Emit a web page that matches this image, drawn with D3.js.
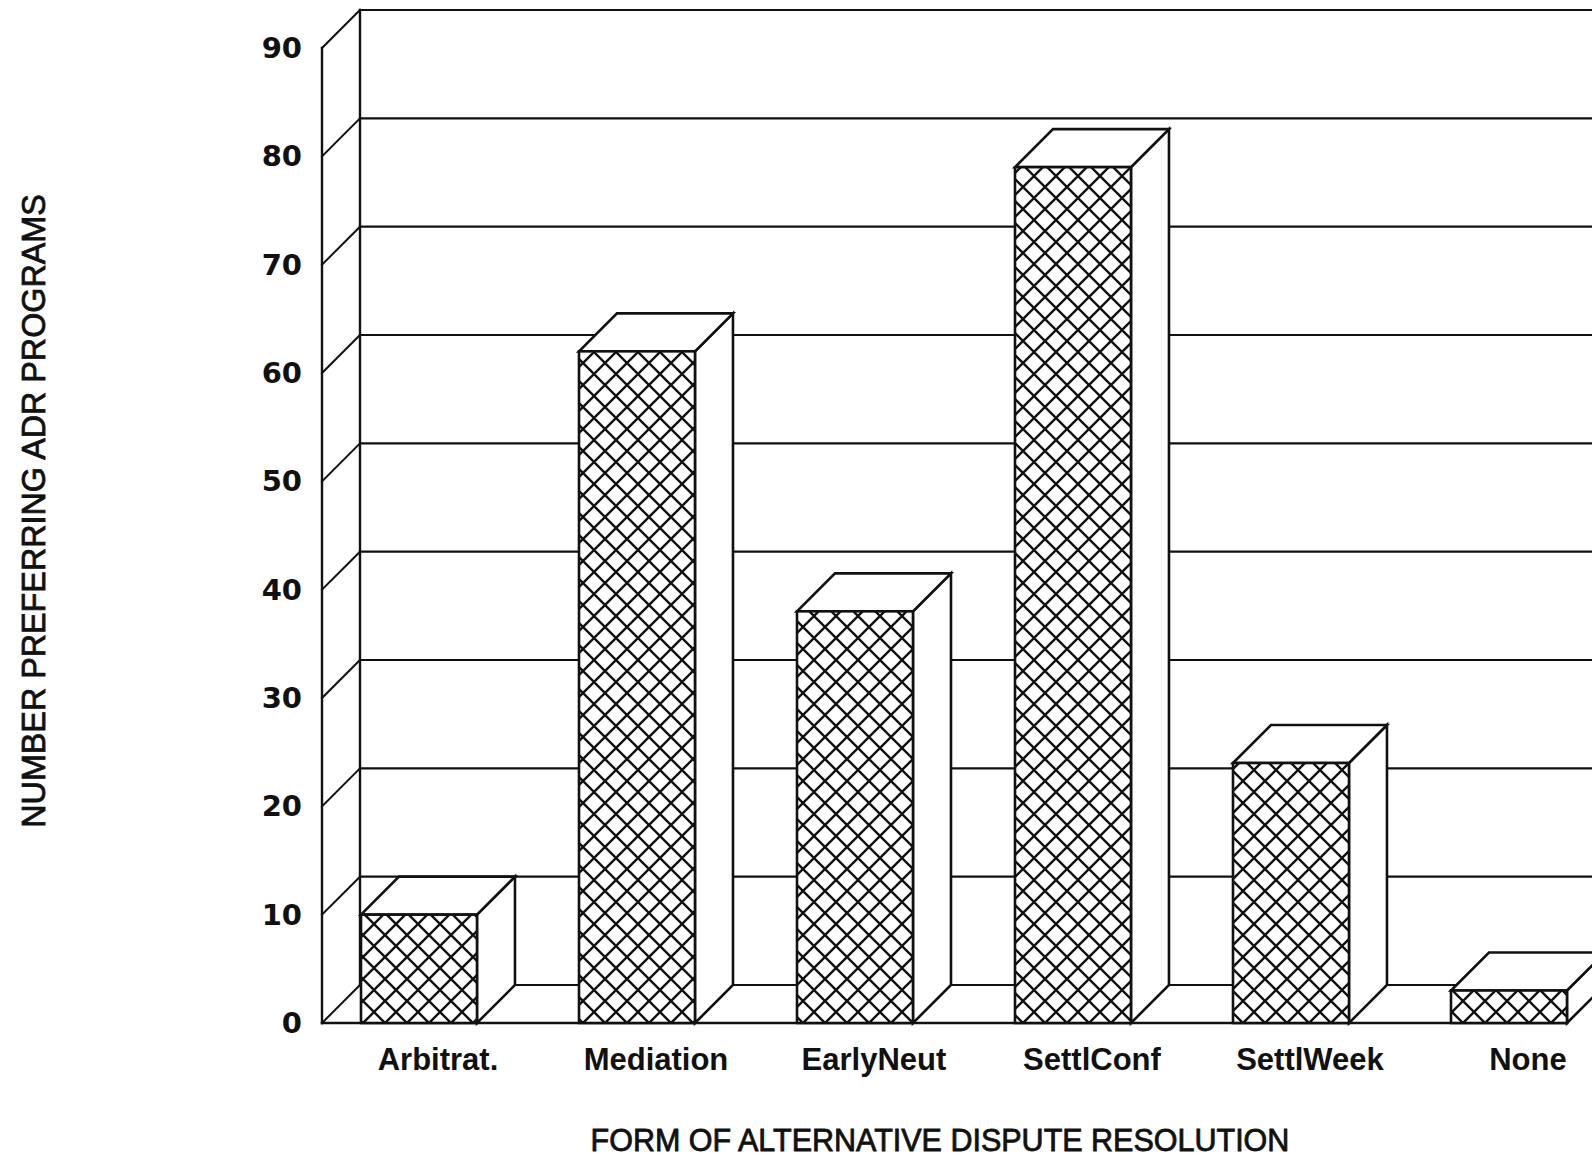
<!DOCTYPE html>
<html>
<head>
<meta charset="utf-8">
<script src="https://cdn.jsdelivr.net/npm/d3@7"></script>
<style>
  html, body { margin: 0; padding: 0; background: #fff; }
  svg { display: block; }
  text { font-family: "Liberation Sans", Arial, Helvetica, sans-serif; fill: #111; }
</style>
</head>
<body>
<script>
// Preferred forms of alternative dispute resolution
const categories = ["Arbitrat.", "Mediation", "EarlyNeut", "SettlConf", "SettlWeek", "None"];
const counts = [10, 62, 38, 79, 24, 3];
const tickValues = [0, 10, 20, 30, 40, 50, 60, 70, 80, 90];
const yTitle = "NUMBER PREFERRING ADR PROGRAMS";
const xTitle = "FORM OF ALTERNATIVE DISPUTE RESOLUTION";

const W = 1592, H = 1164;
const axisX = 322;          // front edge of the left side wall
const depth = 38;           // oblique offset for the 3D walls and bars
const ink = "#111";

const svg = d3.select("body").append("svg")
  .attr("width", W).attr("height", H);

// cross-hatch fill for the front face of each bar
const tile = 22;
const pat = svg.append("defs").append("pattern")
  .attr("id", "hatch").attr("patternUnits", "userSpaceOnUse")
  .attr("width", tile).attr("height", tile);
pat.append("rect").attr("width", tile).attr("height", tile).attr("fill", "#fff");
pat.append("path")
  .attr("d", `M-2,-2L${tile + 2},${tile + 2}M${tile + 2},-2L-2,${tile + 2}`)
  .attr("stroke", ink).attr("stroke-width", 2.4).attr("fill", "none");

const y = d3.scaleLinear().domain([0, 90]).range([1023, 48]);
const x = d3.scaleBand().domain(categories)
  .range([axisX + depth + 1, axisX + depth + 1 + 218 * (6 - 0.468)])
  .paddingInner(0.468).paddingOuter(0).align(0);

const lines = svg.append("g").attr("stroke", ink).attr("fill", "none").attr("stroke-linecap", "square");

// back wall gridlines (incl. back floor edge at 0)
lines.selectAll(".back").data(tickValues).join("line")
  .attr("x1", axisX + depth).attr("x2", W + depth)
  .attr("y1", d => y(d) - depth).attr("y2", d => y(d) - depth)
  .attr("stroke-width", 2.2);

// left edge of the back wall
lines.append("line")
  .attr("x1", axisX + depth).attr("x2", axisX + depth)
  .attr("y1", y(0) - depth).attr("y2", y(90) - depth)
  .attr("stroke-width", 2.4);

// side wall: front axis line and oblique gridlines
lines.append("line")
  .attr("x1", axisX).attr("x2", axisX)
  .attr("y1", y(0)).attr("y2", y(90))
  .attr("stroke-width", 2.4);
lines.selectAll(".side").data(tickValues).join("line")
  .attr("x1", axisX).attr("y1", d => y(d))
  .attr("x2", axisX + depth).attr("y2", d => y(d) - depth)
  .attr("stroke-width", 2);

// floor front edge and right edge
lines.append("line")
  .attr("x1", axisX).attr("x2", x.range()[1])
  .attr("y1", y(0)).attr("y2", y(0)).attr("stroke-width", 2.4);
lines.append("line")
  .attr("x1", x.range()[1]).attr("y1", y(0))
  .attr("x2", x.range()[1] + depth).attr("y2", y(0) - depth).attr("stroke-width", 2);

// bars
const bw = x.bandwidth();
const bars = svg.append("g").selectAll("g").data(categories.map((c, i) => ({ c, v: counts[i] })))
  .join("g")
  .attr("stroke", ink).attr("stroke-width", 2.6).attr("stroke-linejoin", "miter");

// right side face
bars.append("path").attr("fill", "#fff")
  .attr("d", d => {
    const x1 = x(d.c) + bw, yt = y(d.v), yb = y(0);
    return `M${x1},${yb}L${x1},${yt}L${x1 + depth},${yt - depth}L${x1 + depth},${yb - depth}Z`;
  });
// top face
bars.append("path").attr("fill", "#fff")
  .attr("d", d => {
    const x0 = x(d.c), x1 = x0 + bw, yt = y(d.v);
    return `M${x0},${yt}L${x0 + depth},${yt - depth}L${x1 + depth},${yt - depth}L${x1},${yt}Z`;
  });
// front face
bars.append("rect")
  .attr("x", d => x(d.c)).attr("width", bw)
  .attr("y", d => y(d.v)).attr("height", d => y(0) - y(d.v))
  .attr("fill", "url(#hatch)");

// value axis labels
svg.append("g").selectAll("text").data(tickValues).join("text")
  .attr("x", 302).attr("y", d => y(d))
  .attr("text-anchor", "end").attr("dominant-baseline", "central")
  .style("font-family", "'DejaVu Sans', sans-serif")
  .attr("font-size", 29).attr("font-weight", "bold")
  .text(d => d);

// category labels
svg.append("g").selectAll("text").data(categories).join("text")
  .attr("x", d => x(d) + bw / 2 + depth / 2).attr("y", 1059)
  .attr("text-anchor", "middle").attr("dominant-baseline", "central")
  .attr("font-size", 31).attr("font-weight", "bold")
  .text(d => d);

// axis titles
svg.append("text")
  .attr("x", 940).attr("y", 1140)
  .attr("text-anchor", "middle").attr("dominant-baseline", "central")
  .attr("font-size", 30.5).attr("stroke", ink).attr("stroke-width", 0.8)
  .text(xTitle);

svg.append("text")
  .attr("transform", "translate(34,511) rotate(-90)")
  .attr("text-anchor", "middle").attr("dominant-baseline", "central")
  .attr("font-size", 32.3).attr("stroke", ink).attr("stroke-width", 0.8)
  .text(yTitle);
</script>
</body>
</html>
